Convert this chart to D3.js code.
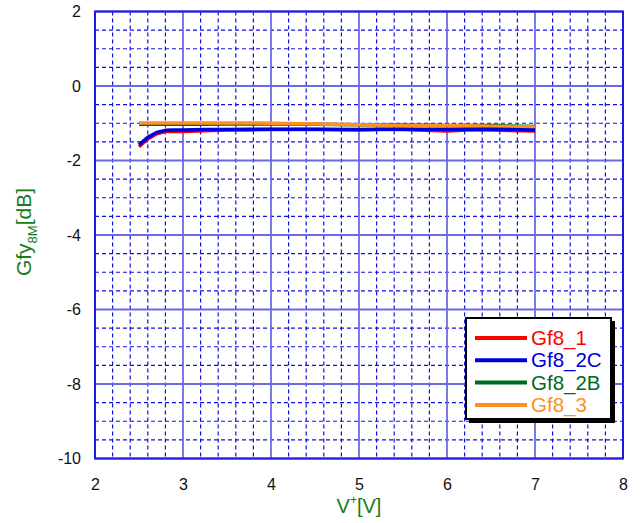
<!DOCTYPE html>
<html><head><meta charset="utf-8">
<script src="https://cdn.jsdelivr.net/npm/d3@7"></script>
<style>body{margin:0;background:#fff}svg{display:block}text{font-family:Arial,"Liberation Sans",sans-serif}</style>
</head><body><svg id="c" width="641" height="523"></svg>
<script>
const xTicks = [2,3,4,5,6,7,8];
const yTicks = [2,0,-2,-4,-6,-8,-10];
const seriesNames = ["Gf8_1","Gf8_2C","Gf8_2B","Gf8_3"];
const seriesColors = ["#ff0000","#0000dd","#006a1e","#ff9020"];
const vx = [2.5,2.6,2.7,2.8,2.9,3.0,3.25,3.5,3.75,4.0,4.5,5.0,5.25,5.5,6.0,6.25,6.5,7.0];
const gf8_1  = [-1.63,-1.42,-1.28,-1.22,-1.22,-1.22,-1.2,-1.18,-1.18,-1.17,-1.17,-1.18,-1.17,-1.17,-1.21,-1.18,-1.18,-1.21];
const gf8_2C = [-1.58,-1.38,-1.25,-1.19,-1.18,-1.18,-1.17,-1.17,-1.16,-1.16,-1.16,-1.17,-1.16,-1.16,-1.17,-1.16,-1.16,-1.18];
const gf8_2B = [-1.03,-1.03,-1.03,-1.03,-1.03,-1.03,-1.03,-1.02,-1.02,-1.02,-1.03,-1.04,-1.04,-1.05,-1.06,-1.06,-1.06,-1.09];
const gf8_3  = [-0.99,-0.99,-0.99,-0.99,-0.99,-0.99,-0.99,-0.99,-0.99,-1.0,-1.02,-1.04,-1.05,-1.06,-1.07,-1.07,-1.08,-1.1];
const allSeries = [gf8_1, gf8_2C, gf8_2B, gf8_3];

const svg = d3.select("#c");
const L=95,R=623,T=11.5,B=458.5;
const x = d3.scaleLinear().domain([2,8]).range([L,R]);
const y = d3.scaleLinear().domain([-10,2]).range([B,T]);

// minor grid
const g = svg.append("g");
d3.range(2,8.001,0.2).forEach(v=>{
  if (Math.abs(v-Math.round(v))>1e-6) g.append("line").attr("x1",x(v)).attr("x2",x(v)).attr("y1",T).attr("y2",B)
    .attr("stroke","#1010e0").attr("stroke-width",1.2).attr("stroke-dasharray","4,3");
});
d3.range(-10,2.001,0.5).forEach(v=>{
  if (Math.abs(v/2-Math.round(v/2))>1e-6) g.append("line").attr("x1",L).attr("x2",R).attr("y1",y(v)).attr("y2",y(v))
    .attr("stroke","#1010e0").attr("stroke-width",1.2).attr("stroke-dasharray","4,3");
});
xTicks.forEach(v=>g.append("line").attr("x1",x(v)).attr("x2",x(v)).attr("y1",T).attr("y2",B).attr("stroke","#6a6ae6").attr("stroke-width",1.8));
yTicks.forEach(v=>g.append("line").attr("x1",L).attr("x2",R).attr("y1",y(v)).attr("y2",y(v)).attr("stroke","#6a6ae6").attr("stroke-width",1.8));
svg.append("rect").attr("x",L).attr("y",T).attr("width",R-L).attr("height",B-T).attr("fill","none").attr("stroke","#1a1ae0").attr("stroke-width",2);

// axes labels via d3 axes
const xa = svg.append("g").attr("transform",`translate(0,${B})`).call(d3.axisBottom(x).tickValues(xTicks).tickSize(0).tickPadding(20).tickFormat(d3.format("d")));
const ya = svg.append("g").attr("transform",`translate(${L},0)`).call(d3.axisLeft(y).tickValues(yTicks).tickSize(0).tickPadding(14).tickFormat(d=>d<0?"-"+Math.abs(d):d));
[xa,ya].forEach(a=>{a.select(".domain").remove();a.selectAll("text").attr("font-size",16).attr("fill","#111").attr("font-family","Arial, 'Liberation Sans', sans-serif");});

// series (drawing order: green, orange, red, blue)
const line = d3.line().x((d,i)=>x(vx[i])).y(d=>y(d));
[2,3,0,1].forEach(k=>{
  svg.append("path").attr("d",line(allSeries[k])).attr("fill","none").attr("stroke",seriesColors[k]).attr("stroke-width",3.5).attr("stroke-linejoin","round");
});

// titles
const titleColor="#1a7a1a";
const xt = svg.append("text").attr("x",359).attr("y",513).attr("text-anchor","middle").attr("font-size",20).attr("fill",titleColor);
xt.append("tspan").text("V");
xt.append("tspan").attr("font-size",12).attr("dy",-9).text("+");
xt.append("tspan").attr("dy",9).text("[V]");
const yt = svg.append("text").attr("transform","translate(31,232) rotate(-90)").attr("text-anchor","middle").attr("font-size",21).attr("fill",titleColor);
yt.append("tspan").text("Gfy");
yt.append("tspan").attr("font-size",13).attr("dy",6).text("8M");
yt.append("tspan").attr("dy",-6).text("[dB]");

// legend
const lg = svg.append("g");
lg.append("rect").attr("x",469).attr("y",321).attr("width",146).attr("height",102).attr("fill","#000");
lg.append("rect").attr("x",466).attr("y",318).attr("width",145).attr("height",101).attr("fill","#fff").attr("stroke","#000").attr("stroke-width",2);
seriesNames.forEach((n,i)=>{
  const yy = 338 + i*22.3;
  lg.append("line").attr("x1",475).attr("x2",527).attr("y1",yy).attr("y2",yy).attr("stroke",seriesColors[i]).attr("stroke-width",4);
  lg.append("text").attr("x",531).attr("y",yy+7).attr("font-size",20.5).attr("fill",seriesColors[i]).text(n);
});
</script></body></html>
